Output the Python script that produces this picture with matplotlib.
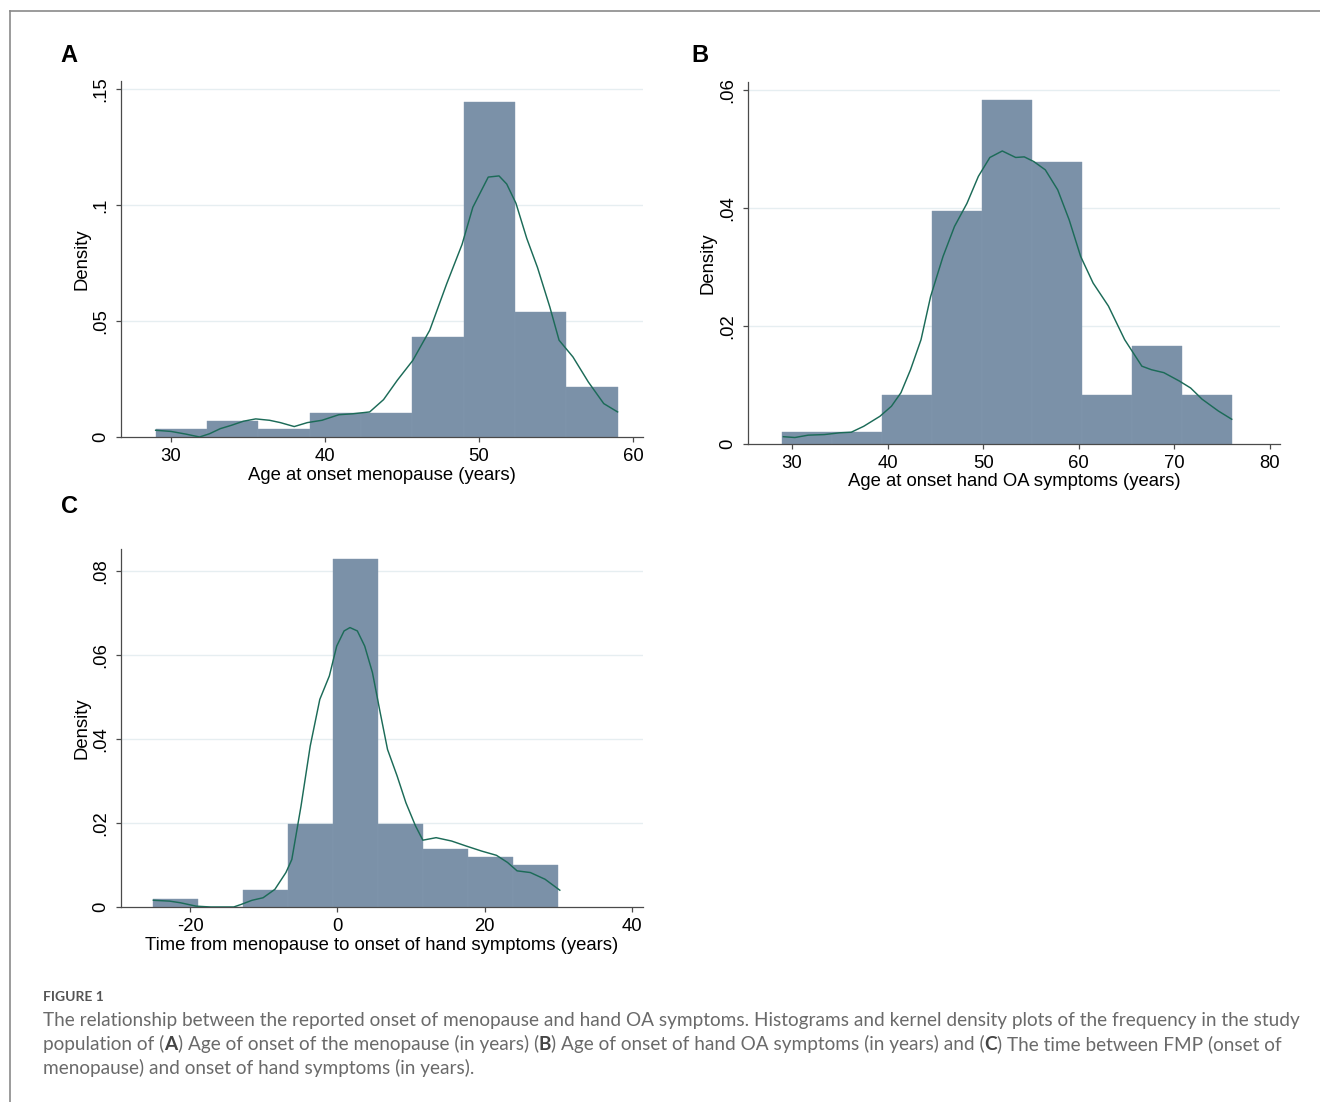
import numpy as np
import matplotlib
matplotlib.use("Agg")
import matplotlib.pyplot as plt
from matplotlib.lines import Line2D

# ---------------- data ----------------
# Panel A: Age at onset menopause
a_edges = [29, 32.33, 35.67, 39, 42.33, 45.67, 49, 52.33, 55.67, 59]
a_heights = [0.0034, 0.0069, 0.0034, 0.0105, 0.0105, 0.0432, 0.1443, 0.0540, 0.0214]
a_kde_x = [29.0, 30.0, 31.0, 31.85, 32.5, 33.2, 33.9, 34.7, 35.5, 36.4, 37.1, 38.0, 38.85,
           39.8, 40.9, 41.8, 42.9, 43.8, 44.7, 45.7, 46.8, 47.9, 48.9, 49.6, 50.6, 51.3,
           51.8, 52.4, 53.1, 53.8, 54.6, 55.2, 56.1, 57.1, 58.1, 59.0]
a_kde_y = [0.0029, 0.0024, 0.0012, 0.0, 0.0014, 0.0036, 0.0050, 0.0068, 0.0078, 0.0072,
           0.0062, 0.0045, 0.0062, 0.0072, 0.0096, 0.0100, 0.0108, 0.0161, 0.0245, 0.0330,
           0.0460, 0.0660, 0.0830, 0.0990, 0.1120, 0.1125, 0.1090, 0.1007, 0.0856, 0.0730,
           0.0560, 0.0417, 0.0345, 0.0237, 0.0144, 0.0108]
a_xticks = [30, 40, 50, 60]
a_yticks = [0, 0.05, 0.10, 0.15]
a_yticklabels = ["0", ".05", ".1", ".15"]
a_xlabel = "Age at onset menopause (years)"

# Panel B: Age at onset hand OA symptoms
b_edges = [29, 34.22, 39.44, 44.67, 49.89, 55.11, 60.33, 65.56, 70.78, 76]
b_heights = [0.0021, 0.0021, 0.0083, 0.0395, 0.0583, 0.0479, 0.0083, 0.0166, 0.0083]
b_kde_x = [29.1, 30.3, 31.7, 33.4, 35.0, 36.2, 37.5, 39.2, 40.4, 41.4, 42.4, 43.5, 44.5,
           45.8, 47.0, 48.3, 49.5, 50.7, 52.0, 53.4, 54.3, 55.3, 56.5, 57.8, 59.0, 60.2,
           61.5, 63.1, 64.8, 66.6, 67.6, 68.9, 70.5, 71.7, 72.9, 74.6, 76.0]
b_kde_y = [0.00124, 0.0011, 0.0015, 0.0016, 0.0019, 0.0020, 0.0030, 0.0047, 0.0064, 0.0087,
           0.0126, 0.0177, 0.0250, 0.0318, 0.0369, 0.0408, 0.0454, 0.0486, 0.0497, 0.0486,
           0.0487, 0.0479, 0.0465, 0.0431, 0.0380, 0.0318, 0.0273, 0.0234, 0.0177, 0.0132,
           0.0126, 0.0121, 0.0107, 0.0095, 0.0076, 0.0056, 0.0042]
b_xticks = [30, 40, 50, 60, 70, 80]
b_yticks = [0, 0.02, 0.04, 0.06]
b_yticklabels = ["0", ".02", ".04", ".06"]
b_xlabel = "Age at onset hand OA symptoms (years)"

# Panel C: Time from menopause to onset of hand symptoms
c_edges = [-25, -18.89, -12.78, -6.67, -0.56, 5.56, 11.67, 17.78, 23.89, 30]
c_heights = [0.0020, 0.0, 0.0040, 0.0198, 0.0829, 0.0198, 0.0138, 0.0119, 0.0099]
c_kde_x = [-25.0, -22.8, -21.3, -19.2, -17.2, -14.1, -13.1, -11.6, -10.1, -8.5, -7.0, -6.2,
           -4.95, -3.7, -2.4, -1.1, -0.1, 0.9, 1.7, 2.7, 3.7, 4.75, 5.8, 6.8, 8.1, 9.3,
           10.6, 11.6, 13.4, 15.5, 17.5, 19.6, 21.6, 23.1, 24.4, 26.2, 28.2, 30.2]
c_kde_y = [0.0016, 0.0014, 0.0010, 0.0002, 0.0, 0.0, 0.0006, 0.0016, 0.0022, 0.0042, 0.0082,
           0.0113, 0.0240, 0.0383, 0.0494, 0.0550, 0.0621, 0.0657, 0.0665, 0.0657, 0.0621,
           0.0558, 0.0463, 0.0375, 0.0312, 0.0248, 0.0193, 0.0159, 0.0165, 0.0157, 0.0145,
           0.0133, 0.0123, 0.0106, 0.0086, 0.0082, 0.0066, 0.0040]
c_xticks = [-20, 0, 20, 40]
c_xticklabels = ["-20", "0", "20", "40"]
c_yticks = [0, 0.02, 0.04, 0.06, 0.08]
c_yticklabels = ["0", ".02", ".04", ".06", ".08"]
c_xlabel = "Time from menopause to onset of hand symptoms (years)"

panel_letters = ["A", "B", "C"]
caption_title = "FIGURE 1"
# segments: (text, bold)
caption_lines = [
    [("The relationship between the reported onset of menopause and hand OA symptoms. Histograms and kernel density plots of the frequency in the study", False)],
    [("population of (", False), ("A", True), (") Age of onset of the menopause (in years) (", False),
     ("B", True), (") Age of onset of hand OA symptoms (in years) and (", False), ("C", True),
     (") The time between FMP (onset of", False)],
    [("menopause) and onset of hand symptoms (in years).", False)],
]

# ---------------- style ----------------
W, H = 1320, 1102
BAR = "#7b91a8"
KDE = "#1c6b58"
GRID = "#e6eef1"
SPINE = "#4a4a4a"
FONT = ["Liberation Sans", "DejaVu Sans"]

plt.rcParams["font.family"] = FONT

fig = plt.figure(figsize=(W / 100, H / 100), dpi=100)
fig.patch.set_facecolor("white")


def px_axes(left, top, right, bottom):
    return fig.add_axes([left / W, 1 - bottom / H, (right - left) / W, (bottom - top) / H])


def make_panel(ax, edges, heights, kx, ky, xticks, xticklabels, yticks, yticklabels,
               xlim, ylim, xlabel, axh):
    edges = np.asarray(edges)
    ax.bar(edges[:-1], heights, width=np.diff(edges), align="edge", color=BAR,
           edgecolor="#8499ae", linewidth=0.3, zorder=2)
    ax.plot(kx, ky, color=KDE, linewidth=1.05, zorder=3)
    ax.set_xlim(*xlim)
    ax.set_ylim(*ylim)
    ax.set_xticks(xticks)
    ax.set_xticklabels(xticklabels)
    ax.set_yticks(yticks)
    ax.set_yticklabels(yticklabels, rotation=90, va="center")
    for s in ["top", "right"]:
        ax.spines[s].set_visible(False)
    for s in ["left", "bottom"]:
        ax.spines[s].set_color(SPINE)
        ax.spines[s].set_linewidth(0.9)
    ax.tick_params(axis="both", direction="out", length=3.8, width=0.9, color=SPINE,
                   labelsize=13.3, labelcolor="black")
    ax.tick_params(axis="y", pad=5)
    ax.tick_params(axis="x", pad=4)
    for y in yticks[1:]:
        ax.axhline(y, color=GRID, linewidth=1.0, zorder=1)
    ax.set_ylabel("Density", fontsize=13.3)
    ax.yaxis.set_label_coords(-0.075, 0.5)
    ax.set_xlabel(xlabel, fontsize=13.3)
    ax.xaxis.set_label_coords(0.5, -38 / axh)
    ax.xaxis.label.set_va("center")
    ax.yaxis.label.set_va("center")


axA = px_axes(121, 81, 643, 437)
make_panel(axA, a_edges, a_heights, a_kde_x, a_kde_y, a_xticks, [str(t) for t in a_xticks],
           a_yticks, a_yticklabels, (26.75, 60.65), (0, 0.1534), a_xlabel, 356)

axB = px_axes(748, 82, 1280, 444)
make_panel(axB, b_edges, b_heights, b_kde_x, b_kde_y, b_xticks, [str(t) for t in b_xticks],
           b_yticks, b_yticklabels, (25.4, 81.05), (0, 0.0614), b_xlabel, 362)

axC = px_axes(121, 549, 643, 907)
make_panel(axC, c_edges, c_heights, c_kde_x, c_kde_y, c_xticks, c_xticklabels,
           c_yticks, c_yticklabels, (-29.4, 41.5), (0, 0.0852), c_xlabel, 358)

# panel letters
for letter, (x, y) in zip(panel_letters, [(69, 56), (700, 56), (69, 506)]):
    fig.text(x / W, 1 - y / H, letter, fontsize=17, fontweight="bold", ha="center",
             va="center", family=FONT)

# border
fig.add_artist(Line2D([10.5 / W, 10.5 / W], [0, 1 - 10.5 / H], color="#8a8a8a",
                      linewidth=1.2, transform=fig.transFigure))
fig.add_artist(Line2D([10.5 / W, 1], [1 - 10.5 / H, 1 - 10.5 / H], color="#8a8a8a",
                      linewidth=1.2, transform=fig.transFigure))

# caption
CAP_FONT = ["Lato", "Open Sans", "DejaVu Sans"]
CAP_COLOR = "#6a6a6a"
fig.text(43 / W, 1 - 997 / H, caption_title, fontsize=10, color="#555555",
         ha="left", va="center", family=CAP_FONT, fontweight="bold")
renderer = fig.canvas.get_renderer()
probe = fig.text(0, 0, caption_lines[0][0][0], fontsize=13, family=CAP_FONT)
fs = 13 * 1255 / probe.get_window_extent(renderer).width
probe.remove()

for segs, y in zip(caption_lines, [1026, 1050, 1074]):
    xpx = 43.0
    for txt, bold in segs:
        t = fig.text(xpx / W, 1 - y / H, txt, fontsize=fs,
                     color="#444444" if bold else CAP_COLOR,
                     ha="left", va="baseline", family=CAP_FONT,
                     fontweight="bold" if bold else "normal")
        xpx += t.get_window_extent(renderer).width

fig.savefig("out.png", dpi=100, facecolor="white")
